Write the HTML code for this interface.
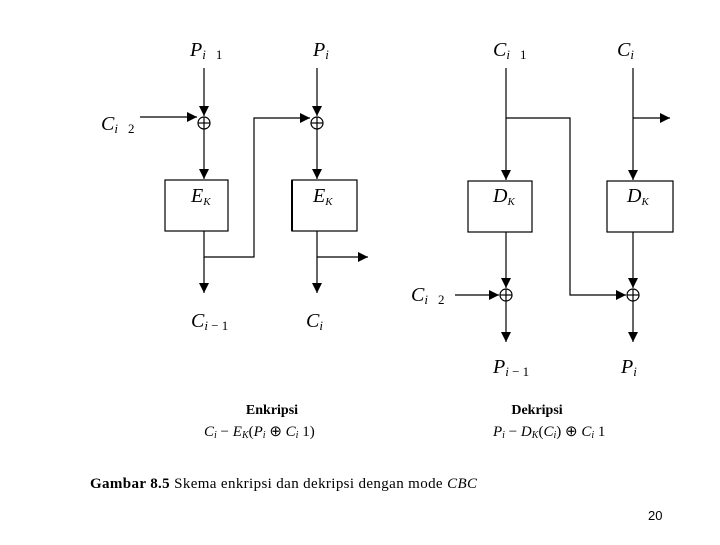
<!DOCTYPE html>
<html><head><style>body{margin:0;background:#fff}</style></head><body>
<svg width="720" height="540" xmlns="http://www.w3.org/2000/svg" font-family="Liberation Serif, serif">
<defs><marker id="a" markerWidth="10" markerHeight="10" refX="10" refY="5" orient="auto" markerUnits="userSpaceOnUse"><path d="M0,0L10,5L0,10z" fill="#000"/></marker></defs>
<g stroke="#000" stroke-width="1.2" fill="none">
<line x1="204" y1="68" x2="204" y2="116" marker-end="url(#a)"/>
<line x1="140" y1="117" x2="197" y2="117" marker-end="url(#a)"/>
<circle cx="204" cy="123" r="6"/><line x1="198" y1="123" x2="210" y2="123"/><line x1="204" y1="117" x2="204" y2="129"/>
<line x1="204" y1="129" x2="204" y2="179" marker-end="url(#a)"/>
<rect x="165" y="180" width="63" height="51"/>
<line x1="204" y1="231" x2="204" y2="293" marker-end="url(#a)"/>
<polyline points="204,257 254,257 254,118 310,118" marker-end="url(#a)"/>
<line x1="317" y1="68" x2="317" y2="116" marker-end="url(#a)"/>
<circle cx="317" cy="123" r="6"/><line x1="311" y1="123" x2="323" y2="123"/><line x1="317" y1="117" x2="317" y2="129"/>
<line x1="317" y1="129" x2="317" y2="179" marker-end="url(#a)"/>
<rect x="292" y="180" width="65" height="51"/>
<line x1="292" y1="180" x2="292" y2="231" stroke-width="2"/>
<line x1="317" y1="231" x2="317" y2="293" marker-end="url(#a)"/>
<line x1="317" y1="257" x2="368" y2="257" marker-end="url(#a)"/>
<line x1="506" y1="68" x2="506" y2="180" marker-end="url(#a)"/>
<polyline points="506,118 570,118 570,295 626,295" marker-end="url(#a)"/>
<rect x="468" y="181" width="64" height="51"/>
<line x1="506" y1="232" x2="506" y2="288" marker-end="url(#a)"/>
<line x1="455" y1="295" x2="499" y2="295" marker-end="url(#a)"/>
<circle cx="506" cy="295" r="6"/><line x1="500" y1="295" x2="512" y2="295"/><line x1="506" y1="289" x2="506" y2="301"/>
<line x1="506" y1="301" x2="506" y2="342" marker-end="url(#a)"/>
<line x1="633" y1="68" x2="633" y2="180" marker-end="url(#a)"/>
<line x1="633" y1="118" x2="670" y2="118" marker-end="url(#a)"/>
<rect x="607" y="181" width="66" height="51"/>
<line x1="633" y1="232" x2="633" y2="288" marker-end="url(#a)"/>
<circle cx="633" cy="295" r="6"/><line x1="627" y1="295" x2="639" y2="295"/><line x1="633" y1="289" x2="633" y2="301"/>
<line x1="633" y1="301" x2="633" y2="342" marker-end="url(#a)"/>
</g>
<g font-style="italic" font-size="20" fill="#000">
<text x="190" y="56">P<tspan font-size="13" dy="3">i</tspan><tspan font-style="normal" font-size="13" dx="10">1</tspan></text>
<text x="313" y="56">P<tspan font-size="13" dy="3">i</tspan></text>
<text x="101" y="130">C<tspan font-size="13" dy="3">i</tspan><tspan font-style="normal" font-size="13" dx="10">2</tspan></text>
<text x="191" y="202">E<tspan font-size="11" dy="3">K</tspan></text>
<text x="313" y="202">E<tspan font-size="11" dy="3">K</tspan></text>
<text x="191" y="327">C<tspan font-size="13" dy="3">i</tspan><tspan font-style="normal" font-size="13"> − 1</tspan></text>
<text x="306" y="327">C<tspan font-size="13" dy="3">i</tspan></text>
<text x="493" y="56">C<tspan font-size="13" dy="3">i</tspan><tspan font-style="normal" font-size="13" dx="10">1</tspan></text>
<text x="617" y="56">C<tspan font-size="13" dy="3">i</tspan></text>
<text x="493" y="202">D<tspan font-size="11" dy="3">K</tspan></text>
<text x="627" y="202">D<tspan font-size="11" dy="3">K</tspan></text>
<text x="411" y="301">C<tspan font-size="13" dy="3">i</tspan><tspan font-style="normal" font-size="13" dx="10">2</tspan></text>
<text x="493" y="373">P<tspan font-size="13" dy="3">i</tspan><tspan font-style="normal" font-size="13"> − 1</tspan></text>
<text x="621" y="373">P<tspan font-size="13" dy="3">i</tspan></text>
</g>
<g font-size="14" fill="#000">
<text x="272" y="414" text-anchor="middle" font-weight="bold">Enkripsi</text>
<text x="537" y="414" text-anchor="middle" font-weight="bold">Dekripsi</text>
<text x="204" y="436" font-style="italic" font-size="15">C<tspan font-size="10" dy="2">i</tspan><tspan dy="-2" font-style="normal"> − </tspan>E<tspan font-size="10" dy="2">K</tspan><tspan dy="-2" font-style="normal">(</tspan>P<tspan font-size="10" dy="2">i</tspan><tspan dy="-2" font-style="normal"> ⊕ </tspan>C<tspan font-size="10" dy="2">i</tspan><tspan dy="-2" font-style="normal">    1)</tspan></text>
<text x="493" y="436" font-style="italic" font-size="15">P<tspan font-size="10" dy="2">i</tspan><tspan dy="-2" font-style="normal"> − </tspan>D<tspan font-size="10" dy="2">K</tspan><tspan dy="-2" font-style="normal">(</tspan>C<tspan font-size="10" dy="2">i</tspan><tspan dy="-2" font-style="normal">) ⊕ </tspan>C<tspan font-size="10" dy="2">i</tspan><tspan dy="-2" font-style="normal">     1</tspan></text>
<text x="90" y="488" font-size="15" textLength="387" lengthAdjust="spacing"><tspan font-weight="bold">Gambar 8.5</tspan>   Skema enkripsi dan dekripsi dengan mode <tspan font-style="italic">CBC</tspan></text>
</g>
<text x="648" y="520" font-family="Liberation Sans, sans-serif" font-size="13">20</text>
</svg>
</body></html>
